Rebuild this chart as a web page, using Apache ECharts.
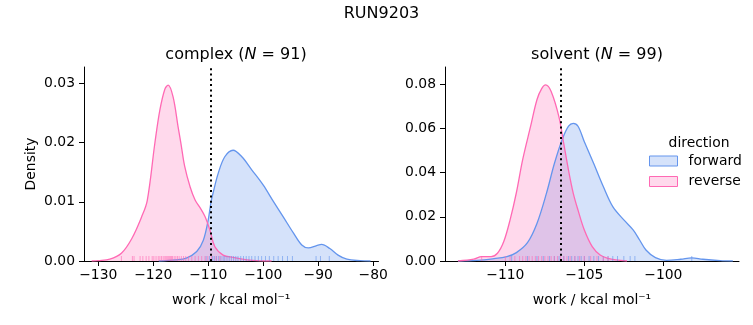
<!DOCTYPE html>
<html>
<head>
<meta charset="utf-8">
<script src="https://cdn.jsdelivr.net/npm/echarts@6/dist/echarts.min.js"></script>
<style>html,body{margin:0;padding:0;background:#fff}#c{width:753px;height:325px}</style>
</head>
<body>
<div id="c"></div>
<script>
// ---- data ----
const complexReverseX = [-131.2, -130, -127.9, -125.8, -123.9, -122.1, -121.1, -119.7, -118.8, -117.9, -117.3, -116.4, -115.5, -115.0, -114.3, -113.3, -112.4, -111.5, -110.6, -109.7, -108.8, -107.3, -105.5, -103, -100.6, -98.5];
const complexReverseY = [0, 0.00006, 0.0003, 0.0013, 0.0038, 0.0075, 0.0102, 0.0200, 0.0255, 0.0290, 0.0297, 0.0277, 0.0227, 0.0200, 0.0160, 0.0125, 0.0103, 0.0090, 0.0075, 0.0052, 0.0024, 0.0010, 0.0006, 0.0002, 0.00003, 0];
const complexForwardX = [-119, -116, -114, -112.1, -110.9, -110, -109.5, -109.1, -108.2, -107, -105.5, -103.9, -102.1, -100, -98.2, -96.4, -94.5, -93, -91.8, -90.3, -89.4, -87.9, -86.4, -84.8, -82.4, -80.5];
const complexForwardY = [0, 0.0002, 0.0005, 0.0016, 0.0035, 0.0070, 0.0100, 0.0116, 0.0148, 0.0176, 0.0187, 0.0176, 0.0154, 0.0128, 0.0101, 0.0075, 0.0047, 0.0027, 0.0022, 0.0026, 0.0028, 0.0021, 0.0010, 0.0003, 0.00005, 0];
const solventReverseX = [-113, -112.0, -111.5, -110.9, -110.5, -110.1, -109.7, -109.3, -108.9, -108.4, -108.0, -107.7, -107.45, -107.1, -106.6, -106.3, -106.0, -105.7, -105.4, -105.0, -104.5, -104.0, -103.5, -103.0, -102.3];
const solventReverseY = [0, 0.0008, 0.0020, 0.0020, 0.0035, 0.0088, 0.0186, 0.0310, 0.0460, 0.0610, 0.0730, 0.0780, 0.0797, 0.0767, 0.0650, 0.0530, 0.0410, 0.0306, 0.0230, 0.0140, 0.0065, 0.0027, 0.0012, 0.0005, 0];
const solventForwardX = [-113, -111.8, -110.8, -109.9, -109.3, -108.6, -108.0, -107.4, -106.9, -106.4, -106.0, -105.7, -105.4, -105.0, -104.4, -103.8, -103.2, -102.5, -101.9, -101.5, -101.1, -100.5, -99.8, -98.9, -98.2, -97.5, -96.4, -95.6];
const solventForwardY = [0, 0.0003, 0.0010, 0.0020, 0.0038, 0.0083, 0.0170, 0.0306, 0.0440, 0.0550, 0.0610, 0.0623, 0.0610, 0.0540, 0.0440, 0.0337, 0.0246, 0.0186, 0.0140, 0.0095, 0.0050, 0.0015, 0.0003, 0.0008, 0.0014, 0.0008, 0.0002, 0];

const complexReverseRug = [-125.8, -123.8, -123.5, -122.4, -121.9, -121.3, -120.8, -120.2, -119.9, -119.5, -119.1, -118.8, -118.5, -118.2, -117.9, -117.7, -117.5, -117.3, -117.1, -116.9, -116.7, -116.5, -116.2, -115.9, -115.6, -115.3, -114.9, -114.5, -114.1, -113.6, -113.0, -112.4, -111.8, -111.2, -110.6, -110.1, -109.4, -108.6, -107.9];
const complexForwardRug = [-110.4, -109.8, -109.2, -108.9, -108.5, -108.1, -107.7, -107.3, -107.0, -106.6, -106.2, -105.8, -105.4, -105.0, -104.6, -104.1, -103.6, -103.1, -102.6, -102.1, -101.5, -100.9, -100.3, -99.6, -98.9, -98.1, -97.3, -96.5, -95.6, -94.7, -90.4, -89.6, -88.0];
const solventReverseRug = [-111.5, -110.0, -109.7, -109.4, -109.1, -108.9, -108.7, -108.5, -108.3, -108.1, -107.9, -107.7, -107.5, -107.3, -107.1, -106.9, -106.7, -106.5, -106.3, -106.1, -105.9, -105.6, -105.3, -105.0, -104.6, -104.2, -103.8, -103.5];
const solventForwardRug = [-109.6, -108.6, -108.0, -107.6, -107.2, -106.9, -106.6, -106.3, -106.0, -105.8, -105.6, -105.4, -105.2, -105.0, -104.7, -104.4, -104.1, -103.8, -103.5, -103.2, -102.9, -102.5, -102.1, -101.8, -98.2];

const complexMean = -109.5;
const solventMean = -106.5;

const complexXTicks = [-130, -120, -110, -100, -90, -80];
const complexYTicks = [0, 0.01, 0.02, 0.03];
const solventXTicks = [-110, -105, -100];
const solventYTicks = [0, 0.02, 0.04, 0.06, 0.08];
const complexXRange = [-132.6, -79.05];
const complexYRange = [0, 0.03275];
const solventXRange = [-113.82, -95.21];
const solventYRange = [0, 0.0878];

// ---- styles ----
const FONT = 'DejaVu Sans';
const TXT = '#000';
const BLUE = '#6495ED', PINK = '#FF69B4';
const BLUE_FILL = 'rgba(100,149,237,0.27)', PINK_FILL = 'rgba(255,105,180,0.25)';
const FS = 13.9;

const zip = (xs, ys) => xs.map((x, i) => [x, ys[i]]);
const minus = v => String(+v.toFixed(6)).replace('-', '\u2212');

function xAxis(grid, range, ticks) {
  return {
    type: 'value', gridIndex: grid, min: range[0], max: range[1],
    name: 'work / kcal mol\u207B\u00B9', nameLocation: 'middle', nameGap: 32,
    nameTextStyle: {fontFamily: FONT, fontSize: FS, color: TXT},
    axisLine: {show: true, onZero: false, lineStyle: {color: TXT, width: 1}},
    axisTick: {show: true, length: 5, lineStyle: {color: TXT, width: 1}, customValues: ticks},
    axisLabel: {customValues: ticks, formatter: v => minus(v), margin: 7, fontFamily: FONT, fontSize: FS, color: TXT},
    splitLine: {show: false}
  };
}
function yAxis(grid, range, ticks, name) {
  return {
    type: 'value', gridIndex: grid, min: range[0], max: range[1],
    name: name, nameLocation: 'middle', nameGap: 46, nameRotate: 90,
    nameTextStyle: {fontFamily: FONT, fontSize: FS, color: TXT},
    axisLine: {show: true, onZero: false, lineStyle: {color: TXT, width: 1}},
    axisTick: {show: true, length: 5, lineStyle: {color: TXT, width: 1}, customValues: ticks},
    axisLabel: {customValues: ticks, formatter: v => v.toFixed(2), margin: 9, fontFamily: FONT, fontSize: FS, color: TXT},
    splitLine: {show: false}
  };
}
function kde(name, grid, xs, ys, color, fill) {
  return {
    type: 'line', name: name, xAxisIndex: grid, yAxisIndex: grid,
    data: zip(xs, ys), smooth: 0.35, showSymbol: false, silent: true,
    lineStyle: {color: color, width: 1.3}, itemStyle: {color: color},
    areaStyle: {color: fill, opacity: 1}, z: 2
  };
}
function rug(name, grid, xs, color) {
  return {
    type: 'scatter', name: name + ' rug', xAxisIndex: grid, yAxisIndex: grid,
    data: xs.map(x => [x, 0]), symbol: 'rect', symbolSize: [1, 5], symbolOffset: [0, -2.5],
    itemStyle: {color: color, opacity: 0.6}, silent: true, z: 3
  };
}
function meanLine(grid, x) {
  return {
    type: 'line', name: 'mean' + grid, xAxisIndex: grid, yAxisIndex: grid, data: [], z: 4,
    markLine: {silent: true, symbol: ['none', 'none'], label: {show: false},
      lineStyle: {color: '#000', width: 2, type: [2, 3.3]}, data: [{xAxis: x}]}
  };
}
const sub = (t, n) => ({
  text: '{a|' + t + ' (}{i|N}{a| = ' + n + ')}',
  textStyle: {rich: {
    a: {fontFamily: FONT, fontSize: 16, fontWeight: 'normal', color: TXT},
    i: {fontFamily: FONT, fontSize: 16, fontWeight: 'normal', fontStyle: 'italic', color: TXT}
  }}
});

const chart = echarts.init(document.getElementById('c'), null, {renderer: 'canvas'});
chart.setOption({
  animation: false,
  backgroundColor: '#fff',
  title: [
    {text: 'RUN9203', left: 376.5, top: 1, textAlign: 'center', textStyle: {fontFamily: FONT, fontSize: 16, fontWeight: 'normal', color: TXT}},
    Object.assign(sub('complex', 91), {left: 231, top: 42, textAlign: 'center'}),
    Object.assign(sub('solvent', 99), {left: 592, top: 42, textAlign: 'center'}),
    {text: 'direction', left: 694, top: 131, textAlign: 'center', textStyle: {fontFamily: FONT, fontSize: FS, fontWeight: 'normal', color: TXT}}
  ],
  legend: {
    orient: 'vertical', left: 649, top: 154, padding: 0, itemWidth: 28, itemHeight: 10, itemGap: 6.5,
    icon: 'rect', selectedMode: false,
    textStyle: {fontFamily: FONT, fontSize: FS, color: TXT, padding: [0, 0, 0, 6]},
    data: [
      {name: 'forward', itemStyle: {color: BLUE_FILL, borderColor: BLUE, borderWidth: 1}},
      {name: 'reverse', itemStyle: {color: PINK_FILL, borderColor: PINK, borderWidth: 1}}
    ]
  },
  grid: [
    {left: 84, right: 374.5, top: 67, bottom: 64},
    {left: 445, right: 14, top: 67, bottom: 64}
  ],
  xAxis: [xAxis(0, complexXRange, complexXTicks), xAxis(1, solventXRange, solventXTicks)],
  yAxis: [yAxis(0, complexYRange, complexYTicks, 'Density'), yAxis(1, solventYRange, solventYTicks, '')],
  series: [
    kde('forward', 0, complexForwardX, complexForwardY, BLUE, BLUE_FILL),
    kde('reverse', 0, complexReverseX, complexReverseY, PINK, PINK_FILL),
    kde('forward', 1, solventForwardX, solventForwardY, BLUE, BLUE_FILL),
    kde('reverse', 1, solventReverseX, solventReverseY, PINK, PINK_FILL),
    rug('forward', 0, complexForwardRug, BLUE),
    rug('reverse', 0, complexReverseRug, PINK),
    rug('forward', 1, solventForwardRug, BLUE),
    rug('reverse', 1, solventReverseRug, PINK),
    meanLine(0, complexMean),
    meanLine(1, solventMean)
  ]
});
</script>
</body>
</html>
